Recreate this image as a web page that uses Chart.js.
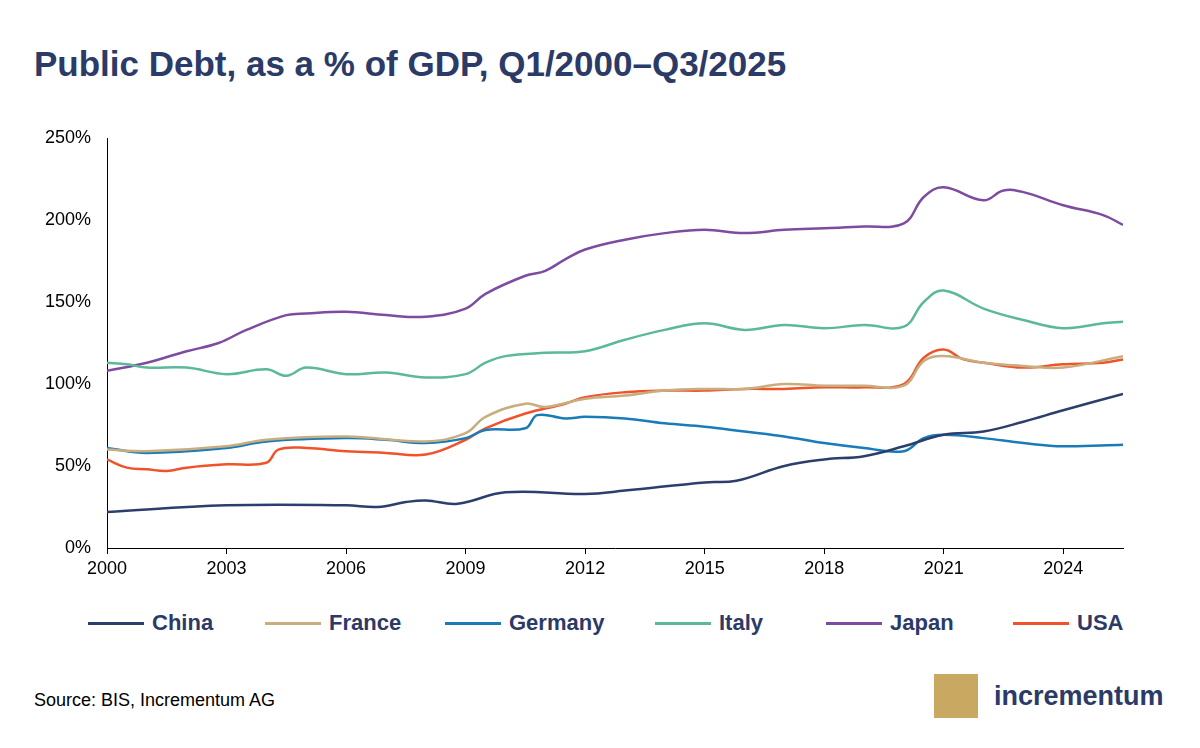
<!DOCTYPE html>
<html>
<head>
<meta charset="utf-8">
<script src="https://cdn.jsdelivr.net/npm/chart.js@4"></script>
<style>
  body { margin: 0; width: 1200px; height: 748px; background: #fff; font-family: 'Liberation Sans', Arial, sans-serif; position: relative; overflow: hidden; }
  h1 { position: absolute; left: 34px; top: 44px; margin: 0; font-size: 35px; font-weight: bold; color: #2b3a67; }
  #wrap { position: absolute; left: 0; top: 100px; width: 1200px; height: 478px; }
  #legend { position: absolute; left: 0; top: 608px; width: 1200px; height: 30px; }
  #legend .item { position: absolute; top: 0; height: 30px; display: flex; align-items: center; font-size: 22px; font-weight: bold; color: #2b3a67; }
  #legend .line { width: 56px; height: 3px; margin-right: 8px; }
  .src { position: absolute; left: 34px; top: 690px; font-size: 18px; color: #000; }
  .logo { position: absolute; left: 934px; top: 674px; display: flex; align-items: center; }
  .logo .mark { width: 44px; height: 44px; background: #c9a961; margin-right: 16px; }
  .logo span { font-size: 27px; font-weight: bold; color: #2b3a67; }
</style>
</head>
<body>
<h1>Public Debt, as a % of GDP, Q1/2000–Q3/2025</h1>
<div id="wrap"><canvas id="c"></canvas></div>
<div id="legend"></div>
<div class="src">Source: BIS, Incrementum AG</div>
<div class="logo"><div class="mark"></div><span>incrementum</span></div>
<script>
var chinaX = [2000, 2003, 2006, 2006.8, 2007.5, 2008, 2008.8, 2010, 2012, 2013, 2015, 2015.8, 2017, 2018, 2019, 2020, 2021, 2022, 2023, 2024, 2025.5];
var chinaY = [22, 26, 26, 25, 28, 29, 27, 34, 33, 35, 40, 41, 50, 54, 56, 62, 69, 71, 77, 84, 94];

var franceX = [2000, 2001, 2003, 2004, 2006, 2008, 2009, 2009.5, 2010.5, 2011, 2012, 2013, 2014, 2015, 2016, 2017, 2018, 2019, 2020, 2020.5, 2021, 2022, 2023, 2024, 2025.5];
var franceY = [60, 59, 62, 66, 68, 65, 70, 80, 88, 86, 91, 93, 96, 97, 97, 100, 99, 99, 99, 114, 117, 113, 111, 110, 117];

var germanyX = [2000, 2001, 2003, 2004, 2006, 2007, 2008, 2009, 2009.5, 2010.5, 2010.8, 2011.5, 2012, 2013, 2014, 2015, 2016, 2017, 2018, 2019, 2020, 2020.5, 2021, 2022, 2023, 2024, 2025.5];
var germanyY = [61, 58, 61, 65, 67, 66, 64, 67, 72, 73, 81, 79, 80, 79, 76, 74, 71, 68, 64, 61, 59, 67, 69, 67, 64, 62, 63];

var italyX = [2000, 2000.5, 2001, 2002, 2003, 2004, 2004.5, 2005, 2006, 2007, 2008, 2009, 2009.5, 2010, 2011, 2012, 2013, 2014, 2015, 2016, 2017, 2018, 2019, 2020, 2020.5, 2021, 2022, 2023, 2024, 2025, 2025.5];
var italyY = [113, 112, 110, 110, 106, 109, 105, 110, 106, 107, 104, 106, 113, 117, 119, 120, 127, 133, 137, 133, 136, 134, 136, 135, 150, 157, 146, 139, 134, 137, 138];

var japanX = [2000, 2001, 2002, 2002.8, 2003.5, 2004.5, 2005, 2006, 2007, 2008, 2009, 2009.5, 2010.5, 2011, 2011.5, 2012, 2013, 2014, 2015, 2016, 2017, 2018, 2019, 2020, 2020.5, 2021, 2022, 2022.5, 2023, 2024, 2025, 2025.5];
var japanY = [108, 113, 120, 125, 133, 142, 143, 144, 142, 141, 146, 155, 166, 169, 176, 182, 188, 192, 194, 192, 194, 195, 196, 198, 214, 220, 212, 218, 217, 209, 203, 197];

var usaX = [2000, 2000.5, 2001, 2001.5, 2002, 2003, 2004, 2004.3, 2005, 2006, 2007, 2008, 2009, 2009.5, 2010.5, 2011.5, 2012, 2013, 2014, 2015, 2016, 2017, 2018, 2019, 2020, 2020.5, 2021, 2021.5, 2022, 2023, 2024, 2025, 2025.5];
var usaY = [54, 49, 48, 47, 49, 51, 52, 60, 61, 59, 58, 57, 66, 73, 82, 88, 92, 95, 96, 96, 97, 97, 98, 98, 100, 116, 121, 115, 113, 110, 112, 113, 115];

var xTicks = [2000, 2003, 2006, 2009, 2012, 2015, 2018, 2021, 2024];
var yTicks = [0, 50, 100, 150, 200, 250];
var legendLeft = [88, 265, 445, 655, 826, 1013];

function pts(xs, ys) {
    return xs.map(function (x, i) { return { x: x, y: ys[i] }; });
}

function series(label, xs, ys, color) {
    return {
        label: label, data: pts(xs, ys), borderColor: color, backgroundColor: color,
        borderWidth: 2.5, pointRadius: 0, tension: 0.4, fill: false
    };
}

var chart = new Chart(document.getElementById('c'), {
    type: 'line',
    data: {
        datasets: [
            series('China',   chinaX,   chinaY,   '#2c3e6b'),
            series('France',  franceX,  franceY,  '#c8ad7f'),
            series('Germany', germanyX, germanyY, '#1a7bb9'),
            series('Italy',   italyX,   italyY,   '#5bb99a'),
            series('Japan',   japanX,   japanY,   '#7d4ba0'),
            series('USA',     usaX,     usaY,     '#f0532a')
        ]
    },
    options: {
        responsive: true,
        maintainAspectRatio: false,
        animation: false,
        layout: { padding: { top: 38, right: 77, left: 0, bottom: 0 } },
        plugins: {
            legend: { display: false },
            tooltip: { enabled: false }
        },
        scales: {
            x: {
                type: 'linear', min: 2000, max: 2025.5,
                afterBuildTicks: function (ax) {
                    ax.ticks = xTicks.map(function (v) { return { value: v }; });
                },
                afterFit: function (ax) { ax.height = 30; },
                ticks: { color: '#000', font: { size: 18, family: 'Liberation Sans' }, callback: function (v) { return v; }, maxRotation: 0, padding: 4 },
                grid: { display: true, drawOnChartArea: false, drawTicks: true, tickLength: 6, color: '#000' },
                border: { color: '#000' }
            },
            y: {
                min: 0, max: 250,
                afterBuildTicks: function (ax) {
                    ax.ticks = yTicks.map(function (v) { return { value: v }; });
                },
                afterFit: function (ax) { ax.width = 107; },
                ticks: { color: '#000', font: { size: 18, family: 'Liberation Sans' }, callback: function (v) { return v + '%'; }, padding: 8 },
                grid: { display: false },
                border: { color: '#000' }
            }
        }
    }
});

var leg = document.getElementById('legend');
chart.data.datasets.forEach(function (ds, i) {
    var item = document.createElement('div');
    item.className = 'item';
    item.style.left = legendLeft[i] + 'px';
    item.innerHTML = '<div class="line" style="background:' + ds.borderColor + '"></div>' + ds.label;
    leg.appendChild(item);
});
</script>
</body>
</html>
